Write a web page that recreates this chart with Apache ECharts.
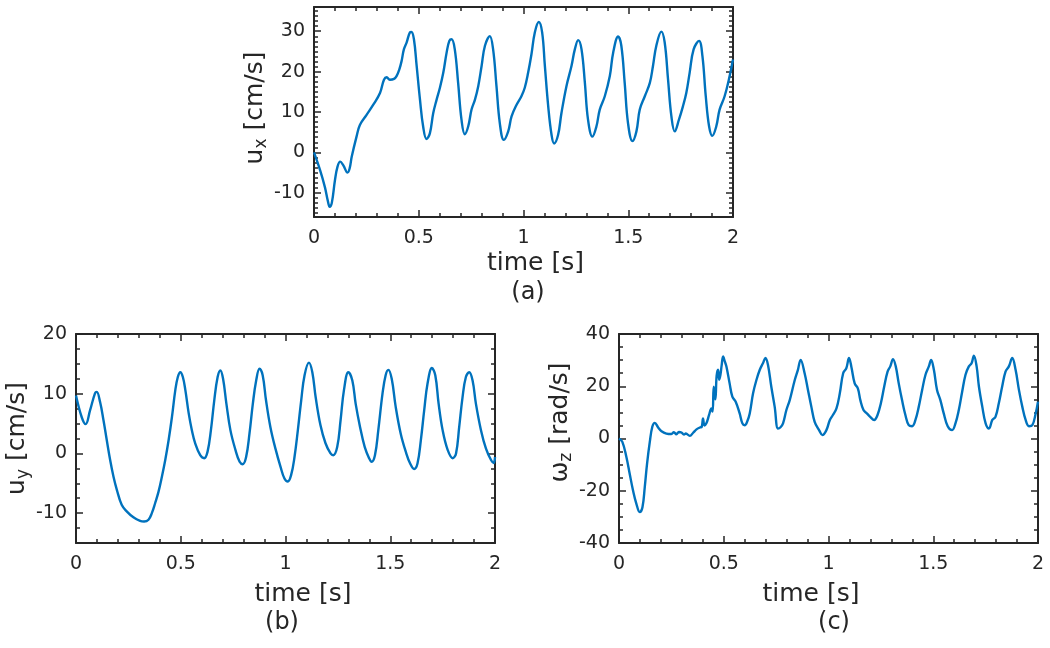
<!DOCTYPE html>
<html>
<head>
<meta charset="utf-8">
<script src="https://cdn.jsdelivr.net/npm/echarts@6/dist/echarts.min.js"></script>
<style>
html,body{margin:0;padding:0;background:#fff;}
#chart{width:1050px;height:648px;}
</style>
</head>
<body>
<div id="chart"></div>
<script>
// ---------- DATA ----------
const timeTicks = [0, 0.5, 1, 1.5, 2];
const uxTicks = [-10, 0, 10, 20, 30];
const uyTicks = [-10, 0, 10, 20];
const wzTicks = [-40, -20, 0, 20, 40];

// (a) u_x [cm/s]
const tA = [0,0.029,0.052,0.066,0.075,0.085,0.1,0.112,0.125,0.14,0.16,0.17,0.18,0.203,0.219,0.251,0.283,0.315,0.334,0.347,0.362,0.382,0.394,0.407,0.418,0.429,0.442,0.458,0.465,0.477,0.49,0.506,0.521,0.537,0.553,0.569,0.585,0.601,0.617,0.633,0.646,0.657,0.672,0.688,0.704,0.72,0.736,0.752,0.768,0.784,0.8,0.816,0.839,0.855,0.871,0.887,0.906,0.927,0.943,0.967,0.99,1.006,1.022,1.038,1.054,1.073,1.089,1.102,1.118,1.134,1.146,1.165,1.181,1.205,1.229,1.245,1.261,1.277,1.293,1.308,1.329,1.348,1.364,1.388,1.412,1.428,1.452,1.467,1.483,1.499,1.52,1.539,1.555,1.579,1.603,1.618,1.634,1.658,1.674,1.69,1.706,1.722,1.742,1.761,1.777,1.793,1.812,1.838,1.854,1.87,1.886,1.901,1.92,1.936,1.96,1.984,2.0];
const uxA = [0,-4.4,-8.6,-12,-13.5,-12.5,-6.9,-3.6,-2.3,-3.2,-5,-4,-1.1,3.9,6.8,9.3,11.8,14.7,18,18.6,18.0,18.2,18.9,20.5,22.6,25.5,27.2,29.7,29.8,28,21.4,13,6.4,3.3,4.7,9.7,13,16,19.7,24.7,27.6,28,25.5,17.2,8.1,4.5,6.4,10.6,13,16.4,21.4,26.4,28.8,25.5,16.4,7.2,3.1,5.2,8.9,11.8,13.9,16,19.7,24.3,29.7,32.3,29.7,21.4,11.4,4.3,2.2,4.3,9.7,16.4,21.4,25.5,27.8,25.5,17.2,8.1,3.9,6.4,10.6,13.9,18.9,24.7,28.7,26.4,17.2,7.2,2.8,5.2,10.6,13.9,17.2,21.4,26.4,29.9,27.2,18,8.9,5.2,8.1,11.4,14.7,19.7,25.5,27.6,23.9,13.9,6.4,4.1,6.4,10.6,13.9,18.9,23];

// (b) u_y [cm/s]
const tB = [0,0.027,0.046,0.067,0.091,0.099,0.115,0.131,0.147,0.163,0.179,0.195,0.218,0.242,0.274,0.306,0.325,0.346,0.362,0.378,0.394,0.41,0.426,0.442,0.458,0.474,0.486,0.498,0.51,0.522,0.538,0.553,0.569,0.593,0.612,0.628,0.644,0.66,0.676,0.689,0.702,0.718,0.737,0.761,0.781,0.796,0.812,0.828,0.844,0.86,0.876,0.891,0.907,0.928,0.952,0.976,0.995,1.011,1.027,1.043,1.059,1.075,1.091,1.112,1.128,1.144,1.167,1.191,1.215,1.228,1.247,1.263,1.279,1.3,1.319,1.335,1.356,1.378,1.399,1.411,1.427,1.443,1.463,1.478,1.491,1.507,1.526,1.55,1.574,1.595,1.614,1.63,1.646,1.662,1.678,1.699,1.715,1.731,1.75,1.774,1.798,1.814,1.829,1.845,1.861,1.877,1.893,1.909,1.933,1.957,1.981,1.994,2.0];
const uyB = [9.7,6.1,4.9,7.2,10.1,10.3,8.6,5.6,2.2,-1.1,-3.9,-6.1,-8.6,-9.7,-10.7,-11.3,-11.4,-11.1,-10,-8.3,-6.4,-3.9,-1.1,2.2,6.1,10.6,12.8,13.6,12.8,10.6,6.7,3.9,1.7,-0.3,-0.8,0.3,3.9,8.9,12.8,13.9,12.5,8.3,3.9,0.6,-1.4,-1.8,-0.6,3.3,8.3,12.2,14.2,13.1,8.9,4.4,0.8,-2.2,-4.2,-4.7,-3.6,-0.6,3.9,8.9,13.1,15.2,13.6,9.4,4.7,1.7,0,-0.3,1.1,5.6,10.6,13.6,12.2,8.3,4.4,1.1,-0.8,-1.4,-0.3,3.9,10,13.1,14,12.5,7.8,3.3,0.3,-1.7,-2.6,-1.7,2.2,7.2,11.7,14.3,13.1,8.3,3.9,0.6,-0.8,0,4.4,9.4,12.8,13.6,12.2,8.3,3.9,0.8,-1.1,-1.6,-0.6];

// (c) omega_z [rad/s]
const tC = [0,0.016,0.035,0.051,0.067,0.083,0.099,0.112,0.123,0.134,0.147,0.159,0.171,0.187,0.203,0.226,0.25,0.262,0.274,0.286,0.298,0.31,0.319,0.338,0.354,0.37,0.386,0.395,0.401,0.408,0.417,0.43,0.441,0.447,0.452,0.46,0.466,0.473,0.478,0.484,0.49,0.497,0.505,0.513,0.528,0.541,0.557,0.576,0.589,0.6,0.612,0.624,0.64,0.656,0.672,0.687,0.699,0.711,0.727,0.743,0.759,0.771,0.783,0.799,0.815,0.839,0.854,0.867,0.886,0.902,0.918,0.934,0.955,0.971,0.99,1.006,1.021,1.038,1.054,1.07,1.085,1.098,1.109,1.125,1.14,1.152,1.167,1.183,1.199,1.218,1.234,1.25,1.266,1.282,1.295,1.308,1.321,1.335,1.351,1.367,1.383,1.399,1.415,1.431,1.447,1.463,1.479,1.49,1.503,1.518,1.534,1.55,1.569,1.59,1.606,1.622,1.638,1.654,1.67,1.683,1.694,1.707,1.718,1.734,1.75,1.766,1.782,1.797,1.813,1.829,1.845,1.861,1.877,1.893,1.909,1.925,1.941,1.957,1.973,1.989,2.0];
const wzC = [0,-1.3,-7,-13.5,-19.9,-25,-28.2,-26.3,-18.6,-9.6,-1.3,4.5,6,4.2,2.8,1.9,1.7,2.4,1.6,2.5,2.3,1.5,1.9,1,2.2,3.5,4.2,4.5,7.7,5,5.8,9,11.5,10.3,19.8,15,24,26.3,22.5,24.3,28,31.4,29.5,27.5,21.1,16,14.1,9.6,5.8,5.1,6.5,9.6,17.3,22.4,26.3,28.8,30.8,28.2,19.8,12.2,3.8,4.3,5.8,10.9,14.7,22.4,26.3,30.1,25,18.6,12.2,6.4,3.2,1.3,3.2,7,9,11.5,17.3,25,26.9,30.8,27.5,21.1,19.2,14.7,10.9,9.6,8.3,7.1,9,13.5,19.9,25.6,27.6,30.4,27.6,21.2,14.7,9,5.1,4.7,7.1,12.2,18.6,24.4,27.6,30.1,26.3,18.6,14.7,9.6,4.7,3.2,5.8,10.9,17.9,24.4,27.6,28.8,31.7,27.6,19.9,12.2,5.8,3.8,7.1,8.3,13.5,19.9,25.6,27.6,30.8,26.3,18.6,12.2,7.1,4.7,5.1,9.6,14.1];

// ---------- STYLE ----------
const FONT = 'DejaVu Sans';
const AX = '#262626';
const BLUE = '#0072BD';

function steps(min, max, step, exclude) {
  const out = [];
  for (let v = min; v <= max + 1e-9; v += step) {
    const r = Math.round(v * 1000) / 1000;
    if (!exclude.some(e => Math.abs(e - r) < 1e-9)) out.push(r);
  }
  return out;
}

const grids = [
  {left: 314, top: 7, width: 419, height: 210},
  {left: 76, top: 334, width: 419, height: 209},
  {left: 619, top: 334, width: 419, height: 209}
];

const shownLine = {show: true, onZero: false, lineStyle: {color: AX, width: 2}};
const hiddenLine = {show: false, onZero: false};

function tick(len, vals) {
  return {show: true, inside: true, length: len, customValues: vals, lineStyle: {color: AX, width: 1.5}};
}

function makeX(g, namePad, nameGap) {
  const base = {type: 'value', gridIndex: g, min: 0, max: 2, splitLine: {show: false}};
  const minor = steps(0, 2, 0.1, timeTicks);
  return [
    Object.assign({}, base, {position: 'bottom', axisLine: shownLine, axisTick: tick(7, timeTicks),
      axisLabel: {show: true, customValues: timeTicks, margin: 12, fontSize: 19, fontFamily: FONT, color: AX},
      name: 'time [s]', nameLocation: 'middle', nameGap: nameGap,
      nameTextStyle: {fontSize: 25, fontFamily: FONT, color: AX, padding: namePad}}),
    Object.assign({}, base, {position: 'bottom', axisLine: hiddenLine, axisTick: tick(4, minor), axisLabel: {show: false}}),
    Object.assign({}, base, {position: 'top', axisLine: shownLine, axisTick: tick(7, timeTicks), axisLabel: {show: false}}),
    Object.assign({}, base, {position: 'top', axisLine: hiddenLine, axisTick: tick(4, minor), axisLabel: {show: false}})
  ];
}

function makeY(g, min, max, major, minorStep, name, namePad, nameGap) {
  const base = {type: 'value', gridIndex: g, min: min, max: max, splitLine: {show: false}};
  const minor = steps(Math.ceil(min / minorStep) * minorStep, max, minorStep, major);
  return [
    Object.assign({}, base, {position: 'left', axisLine: shownLine, axisTick: tick(7, major),
      axisLabel: {show: true, customValues: major, margin: 9, fontSize: 19, fontFamily: FONT, color: AX},
      name: name, nameLocation: 'middle', nameGap: nameGap, nameRotate: 90,
      nameTextStyle: {color: AX, fontFamily: FONT, padding: namePad,
        rich: {m: {fontSize: 25, fontFamily: FONT, color: AX, lineHeight: 30},
               s: {fontSize: 17, fontFamily: FONT, color: AX, lineHeight: 14, verticalAlign: 'bottom'}}}}),
    Object.assign({}, base, {position: 'left', axisLine: hiddenLine, axisTick: tick(4, minor), axisLabel: {show: false}}),
    Object.assign({}, base, {position: 'right', axisLine: shownLine, axisTick: tick(7, major), axisLabel: {show: false}}),
    Object.assign({}, base, {position: 'right', axisLine: hiddenLine, axisTick: tick(4, minor), axisLabel: {show: false}})
  ];
}

const xAxes = [].concat(
  makeX(0, [0, 0, 0, 24], 34),
  makeX(1, [0, 0, 0, 35], 39),
  makeX(2, [0, 35, 0, 0], 39)
);
const yAxes = [].concat(
  makeY(0, -16, 36, uxTicks, 1.25, '{m|u}{s|x}{m| [cm/s]}', [0, 0, 0, 8], 42),
  makeY(1, -15, 20, uyTicks, 2.5, '{m|u}{s|y}{m| [cm/s]}', [0, 0, 0, 0], 38),
  makeY(2, -40, 40, wzTicks, 5, '{m|ω}{s|z}{m| [rad/s]}', [0, 0, 0, 32], 39)
);

function pairs(t, v) { return t.map((x, i) => [x, v[i]]); }

function series(g, t, v) {
  return {type: 'line', xAxisIndex: g * 4, yAxisIndex: g * 4, data: pairs(t, v),
    showSymbol: false, smooth: 0.4, clip: true, silent: true,
    lineStyle: {color: BLUE, width: 2.4}, animation: false};
}

const chart = echarts.init(document.getElementById('chart'), null, {renderer: 'canvas'});
chart.setOption({
  backgroundColor: '#ffffff',
  animation: false,
  grid: grids,
  xAxis: xAxes,
  yAxis: yAxes,
  series: [series(0, tA, uxA), series(1, tB, uyB), series(2, tC, wzC)],
  graphic: [
    {type: 'text', x: 528, y: 293, style: {text: '(a)', font: '24px "DejaVu Sans"', fill: AX, align: 'center', verticalAlign: 'middle'}},
    {type: 'text', x: 282, y: 623, style: {text: '(b)', font: '24px "DejaVu Sans"', fill: AX, align: 'center', verticalAlign: 'middle'}},
    {type: 'text', x: 834, y: 623, style: {text: '(c)', font: '24px "DejaVu Sans"', fill: AX, align: 'center', verticalAlign: 'middle'}}
  ]
});
</script>
</body>
</html>
